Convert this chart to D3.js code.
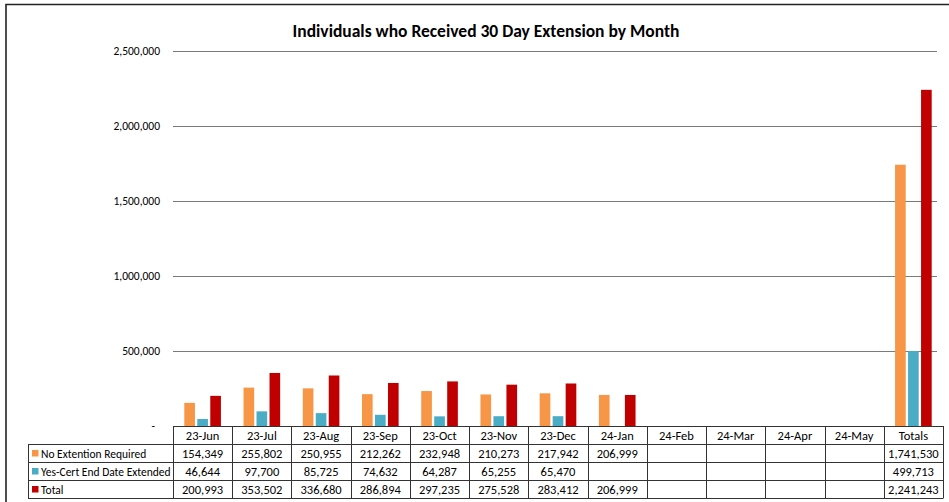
<!DOCTYPE html>
<html>
<head>
<meta charset="utf-8">
<script src="https://cdn.jsdelivr.net/npm/d3@7"></script>
<style>
  body { margin: 0; background: #fff; }
  svg text { font-family: Carlito, Lato, sans-serif; fill: #000; }
</style>
</head>
<body>
<div class="canvas"></div>
<script>
const months = ['23-Jun', '23-Jul', '23-Aug', '23-Sep', '23-Oct', '23-Nov', '23-Dec',
  '24-Jan', '24-Feb', '24-Mar', '24-Apr', '24-May', 'Totals']
const seriesNames = ['No Extention Required', 'Yes-Cert End Date Extended', 'Total']
const noExtension = [154349, 255802, 250955, 212262, 232948, 210273, 217942, 206999,
  null, null, null, null, 1741530]
const yesCert = [46644, 97700, 85725, 74632, 64287, 65255, 65470, null,
  null, null, null, null, 499713]
const totals = [200993, 353502, 336680, 286894, 297235, 275528, 283412, 206999,
  null, null, null, null, 2241243]
const yTicks = [0, 500000, 1000000, 1500000, 2000000, 2500000]
const colours = ['#F79646', '#4BACC6', '#C00000']

const series = [noExtension, yesCert, totals]

const width = 949
const height = 502
const plot = { left: 173, right: 943, top: 51, bottom: 426 }
const rowHeight = 18
const legendLeft = 28

const svg = d3.select('.canvas')
  .append('svg')
  .attr('width', width)
  .attr('height', height)

// frame (only top and left edges visible in the source)
svg.append('path')
  .attr('d', `M6,${height} V4.5 H${width}`)
  .attr('fill', 'none')
  .attr('stroke', '#222')
  .attr('stroke-width', 1.6)

svg.append('text')
  .attr('x', 486)
  .attr('y', 37)
  .attr('text-anchor', 'middle')
  .attr('font-size', 17.5)
  .attr('font-weight', 'bold')
  .text('Individuals who Received 30 Day Extension by Month')

const x = d3.scaleBand()
  .domain(months)
  .range([plot.left, plot.right])

const xInner = d3.scaleBand()
  .domain(seriesNames)
  .range([11.3, x.bandwidth() - 11.3])
  .paddingInner(0.18)

const y = d3.scaleLinear()
  .domain([0, 2500000])
  .range([plot.bottom, plot.top])

// gridlines
svg.append('g')
  .selectAll('line')
  .data(yTicks.filter(t => t > 0))
  .join('line')
  .attr('x1', plot.left)
  .attr('x2', plot.right - 6)
  .attr('y1', d => Math.round(y(d)) + 0.5)
  .attr('y2', d => Math.round(y(d)) + 0.5)
  .attr('stroke', '#7a7a7a')
  .attr('stroke-width', 1)

// y labels
const fmt = d3.format(',')
svg.append('g')
  .selectAll('text')
  .data(yTicks)
  .join('text')
  .attr('x', d => d === 0 ? 155 : 160)
  .attr('y', d => y(d) + 4)
  .attr('text-anchor', 'end')
  .attr('font-size', 11.5)
  .text(d => d === 0 ? '-' : fmt(d))

// bars
const groups = svg.append('g')
  .selectAll('g')
  .data(months)
  .join('g')
  .attr('transform', d => `translate(${x(d)},0)`)

groups.selectAll('rect')
  .data((m, i) => series.map((s, j) => ({ name: seriesNames[j], value: s[i], colour: colours[j] }))
    .filter(d => d.value != null))
  .join('rect')
  .attr('x', d => xInner(d.name))
  .attr('width', xInner.bandwidth())
  .attr('y', d => y(d.value))
  .attr('height', d => y(0) - y(d.value))
  .attr('fill', d => d.colour)

// data table
const table = svg.append('g')
const lineColour = '#333'
const rows = 4
const tableBottom = plot.bottom + rowHeight * rows

// horizontal lines
table.append('line')
  .attr('x1', plot.left).attr('x2', plot.right)
  .attr('y1', plot.bottom + 0.5).attr('y2', plot.bottom + 0.5)
  .attr('stroke', lineColour)
for (let r = 1; r <= rows; r++) {
  table.append('line')
    .attr('x1', legendLeft).attr('x2', plot.right)
    .attr('y1', plot.bottom + r * rowHeight + 0.5)
    .attr('y2', plot.bottom + r * rowHeight + 0.5)
    .attr('stroke', lineColour)
}

// vertical lines
table.append('g')
  .selectAll('line')
  .data(months.map(m => x(m)).concat([plot.right]))
  .join('line')
  .attr('x1', d => Math.round(d) + 0.5)
  .attr('x2', d => Math.round(d) + 0.5)
  .attr('y1', plot.bottom)
  .attr('y2', tableBottom + 0.5)
  .attr('stroke', lineColour)

table.append('line')
  .attr('x1', legendLeft + 0.5).attr('x2', legendLeft + 0.5)
  .attr('y1', plot.bottom + rowHeight).attr('y2', tableBottom + 0.5)
  .attr('stroke', lineColour)

// header labels
table.append('g')
  .selectAll('text')
  .data(months)
  .join('text')
  .attr('x', d => x(d) + x.bandwidth() / 2)
  .attr('y', plot.bottom + 13.5)
  .attr('text-anchor', 'middle')
  .attr('font-size', 12.5)
  .text(d => d)

// legend cells and values
series.forEach((s, j) => {
  const rowTop = plot.bottom + rowHeight * (j + 1)
  table.append('rect')
    .attr('x', 32)
    .attr('y', rowTop + 6)
    .attr('width', 6.5)
    .attr('height', 6.5)
    .attr('fill', colours[j])
  table.append('text')
    .attr('x', 41)
    .attr('y', rowTop + 13.5)
    .attr('font-size', 11.5)
    .text(seriesNames[j])
  table.append('g')
    .selectAll('text')
    .data(months.map((m, i) => ({ m, v: s[i] })).filter(d => d.v != null))
    .join('text')
    .attr('x', d => x(d.m) + x.bandwidth() / 2)
    .attr('y', rowTop + 13.5)
    .attr('text-anchor', 'middle')
    .attr('font-size', 12.5)
    .text(d => fmt(d.v))
})
</script>
</body>
</html>
